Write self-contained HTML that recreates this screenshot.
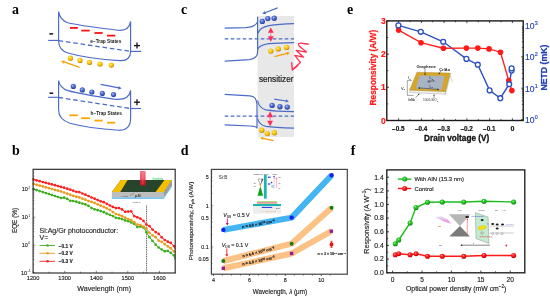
<!DOCTYPE html>
<html><head><meta charset="utf-8"><style>
html,body{margin:0;padding:0;background:#fff;}
svg{display:block;will-change:transform;filter:blur(0.25px);}
.s{font-family:"Liberation Sans",sans-serif;}
.r{font-family:"Liberation Serif",serif;}
</style></head><body>
<svg width="550" height="298" viewBox="0 0 550 298">
<defs>
<radialGradient id="gy" cx="0.4" cy="0.36" r="0.68"><stop offset="0" stop-color="#fff4b0"/><stop offset="0.3" stop-color="#ffd21a"/><stop offset="0.75" stop-color="#ecac00"/><stop offset="1" stop-color="#a87000"/></radialGradient>
<radialGradient id="gb" cx="0.4" cy="0.36" r="0.68"><stop offset="0" stop-color="#b8c8f8"/><stop offset="0.35" stop-color="#5874d4"/><stop offset="0.8" stop-color="#3450b4"/><stop offset="1" stop-color="#1c2e80"/></radialGradient>
<radialGradient id="gg" cx="0.4" cy="0.36" r="0.66"><stop offset="0" stop-color="#e8ffe0"/><stop offset="0.22" stop-color="#3ed03e"/><stop offset="0.7" stop-color="#14b414"/><stop offset="1" stop-color="#0a780a"/></radialGradient>
<radialGradient id="gr" cx="0.4" cy="0.36" r="0.66"><stop offset="0" stop-color="#ffe8e8"/><stop offset="0.22" stop-color="#ff3a3a"/><stop offset="0.7" stop-color="#f00a0a"/><stop offset="1" stop-color="#a80000"/></radialGradient>
</defs>
<rect width="550" height="298" fill="#fff"/>
<text x="12" y="13.8" class="r" font-weight="bold" font-size="14">a</text>
<path d="M58.6 11.7 C59.5 17.5 62 20.8 68 22.8 C78 25.5 100 28 118 30.2 C125 31 129.5 28 130.6 21.4 L130.6 51.5 C130.6 57 127.5 61 120 60.6 C100 59.5 80 56.5 68 53 C61.5 51 58.6 47 58.6 41 Z" fill="none" stroke="#4b6bc8" stroke-width="1.15"/>
<line x1="48.2" y1="40.4" x2="58.6" y2="40.4" stroke="#4b6bc8" stroke-width="1.15"/>
<line x1="58.6" y1="40.6" x2="130.6" y2="51.4" stroke="#4b6bc8" stroke-width="1.3" stroke-dasharray="4.6,2.8"/>
<line x1="130.6" y1="51.4" x2="141" y2="51.4" stroke="#4b6bc8" stroke-width="1.15"/>
<line x1="70" y1="27.9" x2="77.8" y2="27.9" stroke="#ff1010" stroke-width="1.8"/>
<line x1="81.3" y1="30.6" x2="89.7" y2="30.6" stroke="#ff1010" stroke-width="1.8"/>
<line x1="94.5" y1="33" x2="102.7" y2="33" stroke="#ff1010" stroke-width="1.8"/>
<line x1="107" y1="35.6" x2="115.3" y2="35.6" stroke="#ff1010" stroke-width="1.8"/>
<text x="90.3" y="43.4" class="s" font-weight="bold" font-size="4.75" fill="#1a1a1a">e−Trap States</text>
<line x1="49.4" y1="33.9" x2="53.1" y2="33.9" stroke="#111" stroke-width="1.5"/>
<line x1="134" y1="45.6" x2="140" y2="45.6" stroke="#111" stroke-width="1.3"/><line x1="137" y1="42.6" x2="137" y2="48.6" stroke="#111" stroke-width="1.3"/>
<circle cx="70.4" cy="58.2" r="2.6" fill="url(#gy)"/>
<circle cx="80" cy="60.4" r="2.6" fill="url(#gy)"/>
<circle cx="89.5" cy="62.4" r="2.6" fill="url(#gy)"/>
<circle cx="100" cy="64" r="2.6" fill="url(#gy)"/>
<circle cx="111.3" cy="65.1" r="2.6" fill="url(#gy)"/>
<line x1="79.6" y1="67.3" x2="63.75" y2="61.93" stroke="#f5a000" stroke-width="1.25"/><polygon points="61.00,61.00 64.80,60.39 63.64,63.80" fill="#f5a000"/>
<path d="M58.6 80.6 C59.5 86 62 88.7 68 90.6 C80 94 100 97 114 99.1 C122 100 129.5 98 130.6 90.3 L130.6 118 C130.6 126 127 130.5 119 130.3 C100 129 80 126 70 123.2 C61.5 120.5 58.6 116 58.6 110 Z" fill="none" stroke="#4b6bc8" stroke-width="1.15"/>
<line x1="48.2" y1="97.3" x2="58.6" y2="97.3" stroke="#4b6bc8" stroke-width="1.15"/>
<line x1="58.6" y1="97.5" x2="130.6" y2="108.5" stroke="#4b6bc8" stroke-width="1.3" stroke-dasharray="4.6,2.8"/>
<line x1="130.6" y1="108.5" x2="141" y2="108.5" stroke="#4b6bc8" stroke-width="1.15"/>
<line x1="69.4" y1="115.3" x2="77.8" y2="115.3" stroke="#ffa500" stroke-width="1.8"/>
<line x1="81.1" y1="118.2" x2="90" y2="118.2" stroke="#ffa500" stroke-width="1.8"/>
<line x1="94.5" y1="120.6" x2="102.7" y2="120.6" stroke="#ffa500" stroke-width="1.8"/>
<line x1="107" y1="122.7" x2="115.3" y2="122.7" stroke="#ffa500" stroke-width="1.8"/>
<text x="90.5" y="115" class="s" font-weight="bold" font-size="4.75" fill="#1a1a1a">h−Trap States</text>
<line x1="49.5" y1="93.2" x2="53.2" y2="93.2" stroke="#111" stroke-width="1.5"/>
<line x1="134" y1="102.2" x2="140" y2="102.2" stroke="#111" stroke-width="1.3"/><line x1="137" y1="99.2" x2="137" y2="105.2" stroke="#111" stroke-width="1.3"/>
<circle cx="73.3" cy="86.4" r="2.6" fill="url(#gb)"/>
<circle cx="82.3" cy="89.9" r="2.6" fill="url(#gb)"/>
<circle cx="91.8" cy="92" r="2.6" fill="url(#gb)"/>
<circle cx="102.3" cy="93.4" r="2.6" fill="url(#gb)"/>
<circle cx="113.5" cy="94.6" r="2.6" fill="url(#gb)"/>
<line x1="100.6" y1="84.4" x2="118.85" y2="87.95" stroke="#4b6bc8" stroke-width="1.2"/><polygon points="121.70,88.50 118.02,89.62 118.71,86.08" fill="#4b6bc8"/>
<text x="12" y="154.8" class="r" font-weight="bold" font-size="14">b</text>
<polygon points="120.8,180.1 172,180.1 163.7,192.2 111.8,192.2" fill="#27452c"/>
<polygon points="120.8,180.1 127.6,180.1 120.1,192.2 111.8,192.2" fill="#f4bf00"/>
<polygon points="164.4,180.1 172,180.1 163.7,192.2 155.4,192.2" fill="#f4bf00"/>
<polygon points="111.8,192.2 163.7,192.2 163.7,197.4 111.8,197.4" fill="#bdbdbd"/>
<polygon points="163.7,192.2 172,180.1 172,185.2 163.7,197.4" fill="#9c9c9c"/>
<polygon points="111.8,197.4 163.7,197.4 172,185.2 172,186.6 163.7,198.7 111.8,198.7" fill="#48b4ee"/>
<defs><linearGradient id="beam" x1="0" x2="0" y1="0" y2="1"><stop offset="0" stop-color="#f27a88"/><stop offset="0.6" stop-color="#ec5060"/><stop offset="0.65" stop-color="#d81c30"/><stop offset="1" stop-color="#c81828"/></linearGradient></defs>
<rect x="140" y="171" width="5.6" height="14.4" fill="url(#beam)"/><line x1="142.8" y1="172" x2="142.8" y2="184" stroke="#ffb0b8" stroke-width="0.5" opacity="0.7"/>
<text x="152.6" y="179.7" class="s" font-size="2.6" textLength="10.5" lengthAdjust="spacingAndGlyphs" fill="#22bb44">Graphene</text>
<text x="121.6" y="196.8" class="s" font-size="2.4" fill="#333">Ag np</text><text x="135" y="197" class="s" font-weight="bold" font-size="3" fill="#222">p-Si</text><line x1="130" y1="195.5" x2="134" y2="193" stroke="#333" stroke-width="0.3"/>
<text x="132.2" y="202.8" class="s" font-size="2.4" textLength="8.2" lengthAdjust="spacingAndGlyphs" fill="#333">Ag/Ga-In</text>
<line x1="146.6" y1="205.5" x2="146.6" y2="273.0" stroke="#222" stroke-width="0.75" stroke-dasharray="1.1,0.7"/>
<polyline points="33.6,189.1 36.6,190.1 39.7,191.1 42.8,192.1 45.8,193.1 48.9,194.0 51.9,195.0 55.0,196.0 58.0,197.0 61.0,198.0 64.1,197.7 67.2,198.9 70.2,200.8 73.2,201.0 76.3,201.7 79.3,202.7 82.4,203.6 85.4,204.4 88.5,205.9 91.5,208.0 94.6,209.3 97.7,210.2 100.7,211.1 103.8,212.2 106.8,213.6 109.8,214.8 112.9,216.1 115.9,217.8 119.0,218.3 122.0,219.1 125.1,220.4 128.2,221.2 131.2,222.5 134.2,224.0 137.3,227.0 140.3,226.6 143.4,227.4 146.4,232.2 149.5,237.2 152.5,240.9 155.6,244.7 158.7,247.5 161.7,249.5 164.8,251.3 167.8,250.9 170.8,252.8 173.9,255.3 175.0,259.5" fill="none" stroke="#3cb01c" stroke-width="1.0"/>
<circle cx="33.6" cy="189.1" r="1.35" fill="#3cb01c"/>
<circle cx="36.6" cy="190.1" r="1.35" fill="#3cb01c"/>
<circle cx="39.7" cy="191.1" r="1.35" fill="#3cb01c"/>
<circle cx="42.8" cy="192.1" r="1.35" fill="#3cb01c"/>
<circle cx="45.8" cy="193.1" r="1.35" fill="#3cb01c"/>
<circle cx="48.9" cy="194.0" r="1.35" fill="#3cb01c"/>
<circle cx="51.9" cy="195.0" r="1.35" fill="#3cb01c"/>
<circle cx="55.0" cy="196.0" r="1.35" fill="#3cb01c"/>
<circle cx="58.0" cy="197.0" r="1.35" fill="#3cb01c"/>
<circle cx="61.0" cy="198.0" r="1.35" fill="#3cb01c"/>
<circle cx="64.1" cy="197.7" r="1.35" fill="#3cb01c"/>
<circle cx="67.2" cy="198.9" r="1.35" fill="#3cb01c"/>
<circle cx="70.2" cy="200.8" r="1.35" fill="#3cb01c"/>
<circle cx="73.2" cy="201.0" r="1.35" fill="#3cb01c"/>
<circle cx="76.3" cy="201.7" r="1.35" fill="#3cb01c"/>
<circle cx="79.3" cy="202.7" r="1.35" fill="#3cb01c"/>
<circle cx="82.4" cy="203.6" r="1.35" fill="#3cb01c"/>
<circle cx="85.4" cy="204.4" r="1.35" fill="#3cb01c"/>
<circle cx="88.5" cy="205.9" r="1.35" fill="#3cb01c"/>
<circle cx="91.5" cy="208.0" r="1.35" fill="#3cb01c"/>
<circle cx="94.6" cy="209.3" r="1.35" fill="#3cb01c"/>
<circle cx="97.7" cy="210.2" r="1.35" fill="#3cb01c"/>
<circle cx="100.7" cy="211.1" r="1.35" fill="#3cb01c"/>
<circle cx="103.8" cy="212.2" r="1.35" fill="#3cb01c"/>
<circle cx="106.8" cy="213.6" r="1.35" fill="#3cb01c"/>
<circle cx="109.8" cy="214.8" r="1.35" fill="#3cb01c"/>
<circle cx="112.9" cy="216.1" r="1.35" fill="#3cb01c"/>
<circle cx="115.9" cy="217.8" r="1.35" fill="#3cb01c"/>
<circle cx="119.0" cy="218.3" r="1.35" fill="#3cb01c"/>
<circle cx="122.0" cy="219.1" r="1.35" fill="#3cb01c"/>
<circle cx="125.1" cy="220.4" r="1.35" fill="#3cb01c"/>
<circle cx="128.2" cy="221.2" r="1.35" fill="#3cb01c"/>
<circle cx="131.2" cy="222.5" r="1.35" fill="#3cb01c"/>
<circle cx="134.2" cy="224.0" r="1.35" fill="#3cb01c"/>
<circle cx="137.3" cy="227.0" r="1.35" fill="#3cb01c"/>
<circle cx="140.3" cy="226.6" r="1.35" fill="#3cb01c"/>
<circle cx="143.4" cy="227.4" r="1.35" fill="#3cb01c"/>
<circle cx="146.4" cy="232.2" r="1.35" fill="#3cb01c"/>
<circle cx="149.5" cy="237.2" r="1.35" fill="#3cb01c"/>
<circle cx="152.5" cy="240.9" r="1.35" fill="#3cb01c"/>
<circle cx="155.6" cy="244.7" r="1.35" fill="#3cb01c"/>
<circle cx="158.7" cy="247.5" r="1.35" fill="#3cb01c"/>
<circle cx="161.7" cy="249.5" r="1.35" fill="#3cb01c"/>
<circle cx="164.8" cy="251.3" r="1.35" fill="#3cb01c"/>
<circle cx="167.8" cy="250.9" r="1.35" fill="#3cb01c"/>
<circle cx="170.8" cy="252.8" r="1.35" fill="#3cb01c"/>
<circle cx="173.9" cy="255.3" r="1.35" fill="#3cb01c"/>
<polyline points="33.6,183.9 36.6,184.8 39.7,185.6 42.8,186.4 45.8,187.3 48.9,188.1 51.9,189.0 55.0,189.8 58.0,190.6 61.0,191.5 64.1,192.5 67.2,193.7 70.2,194.7 73.2,195.8 76.3,196.7 79.3,197.4 82.4,198.7 85.4,199.7 88.5,201.1 91.5,201.9 94.6,202.9 97.7,204.4 100.7,205.6 103.8,206.9 106.8,208.3 109.8,209.9 112.9,212.1 115.9,214.0 119.0,214.9 122.0,216.2 125.1,217.7 128.2,219.1 131.2,220.2 134.2,222.2 137.3,224.7 140.3,225.0 143.4,226.6 146.4,228.6 149.5,232.8 152.5,235.3 155.6,237.2 158.7,240.6 161.7,241.8 164.8,244.2 167.8,246.4 170.8,248.3 173.9,251.3 175.0,252.6" fill="none" stroke="#eb9a1a" stroke-width="1.0"/>
<circle cx="33.6" cy="183.9" r="1.35" fill="#eb9a1a"/>
<circle cx="36.6" cy="184.8" r="1.35" fill="#eb9a1a"/>
<circle cx="39.7" cy="185.6" r="1.35" fill="#eb9a1a"/>
<circle cx="42.8" cy="186.4" r="1.35" fill="#eb9a1a"/>
<circle cx="45.8" cy="187.3" r="1.35" fill="#eb9a1a"/>
<circle cx="48.9" cy="188.1" r="1.35" fill="#eb9a1a"/>
<circle cx="51.9" cy="189.0" r="1.35" fill="#eb9a1a"/>
<circle cx="55.0" cy="189.8" r="1.35" fill="#eb9a1a"/>
<circle cx="58.0" cy="190.6" r="1.35" fill="#eb9a1a"/>
<circle cx="61.0" cy="191.5" r="1.35" fill="#eb9a1a"/>
<circle cx="64.1" cy="192.5" r="1.35" fill="#eb9a1a"/>
<circle cx="67.2" cy="193.7" r="1.35" fill="#eb9a1a"/>
<circle cx="70.2" cy="194.7" r="1.35" fill="#eb9a1a"/>
<circle cx="73.2" cy="195.8" r="1.35" fill="#eb9a1a"/>
<circle cx="76.3" cy="196.7" r="1.35" fill="#eb9a1a"/>
<circle cx="79.3" cy="197.4" r="1.35" fill="#eb9a1a"/>
<circle cx="82.4" cy="198.7" r="1.35" fill="#eb9a1a"/>
<circle cx="85.4" cy="199.7" r="1.35" fill="#eb9a1a"/>
<circle cx="88.5" cy="201.1" r="1.35" fill="#eb9a1a"/>
<circle cx="91.5" cy="201.9" r="1.35" fill="#eb9a1a"/>
<circle cx="94.6" cy="202.9" r="1.35" fill="#eb9a1a"/>
<circle cx="97.7" cy="204.4" r="1.35" fill="#eb9a1a"/>
<circle cx="100.7" cy="205.6" r="1.35" fill="#eb9a1a"/>
<circle cx="103.8" cy="206.9" r="1.35" fill="#eb9a1a"/>
<circle cx="106.8" cy="208.3" r="1.35" fill="#eb9a1a"/>
<circle cx="109.8" cy="209.9" r="1.35" fill="#eb9a1a"/>
<circle cx="112.9" cy="212.1" r="1.35" fill="#eb9a1a"/>
<circle cx="115.9" cy="214.0" r="1.35" fill="#eb9a1a"/>
<circle cx="119.0" cy="214.9" r="1.35" fill="#eb9a1a"/>
<circle cx="122.0" cy="216.2" r="1.35" fill="#eb9a1a"/>
<circle cx="125.1" cy="217.7" r="1.35" fill="#eb9a1a"/>
<circle cx="128.2" cy="219.1" r="1.35" fill="#eb9a1a"/>
<circle cx="131.2" cy="220.2" r="1.35" fill="#eb9a1a"/>
<circle cx="134.2" cy="222.2" r="1.35" fill="#eb9a1a"/>
<circle cx="137.3" cy="224.7" r="1.35" fill="#eb9a1a"/>
<circle cx="140.3" cy="225.0" r="1.35" fill="#eb9a1a"/>
<circle cx="143.4" cy="226.6" r="1.35" fill="#eb9a1a"/>
<circle cx="146.4" cy="228.6" r="1.35" fill="#eb9a1a"/>
<circle cx="149.5" cy="232.8" r="1.35" fill="#eb9a1a"/>
<circle cx="152.5" cy="235.3" r="1.35" fill="#eb9a1a"/>
<circle cx="155.6" cy="237.2" r="1.35" fill="#eb9a1a"/>
<circle cx="158.7" cy="240.6" r="1.35" fill="#eb9a1a"/>
<circle cx="161.7" cy="241.8" r="1.35" fill="#eb9a1a"/>
<circle cx="164.8" cy="244.2" r="1.35" fill="#eb9a1a"/>
<circle cx="167.8" cy="246.4" r="1.35" fill="#eb9a1a"/>
<circle cx="170.8" cy="248.3" r="1.35" fill="#eb9a1a"/>
<circle cx="173.9" cy="251.3" r="1.35" fill="#eb9a1a"/>
<polyline points="33.6,179.5 36.6,180.3 39.7,181.2 42.8,182.0 45.8,182.8 48.9,183.6 51.9,184.4 55.0,185.2 58.0,186.1 61.0,186.9 64.1,187.7 67.2,188.7 70.2,189.6 73.2,190.7 76.3,191.8 79.3,192.1 82.4,193.5 85.4,194.7 88.5,196.0 91.5,197.5 94.6,198.7 97.7,200.1 100.7,201.3 103.8,202.2 106.8,203.8 109.8,205.5 112.9,206.9 115.9,208.1 119.0,208.1 122.0,209.4 125.1,211.8 128.2,211.6 131.2,211.3 134.2,216.1 137.3,217.3 140.3,218.6 143.4,220.9 146.4,224.5 149.5,226.1 152.5,229.6 155.6,232.1 158.7,233.9 161.7,237.3 164.8,240.0 167.8,241.7 170.8,242.9 173.9,246.1 175.0,248.9" fill="none" stroke="#ff1f1f" stroke-width="1.0"/>
<circle cx="33.6" cy="179.5" r="1.35" fill="#ff1f1f"/>
<circle cx="36.6" cy="180.3" r="1.35" fill="#ff1f1f"/>
<circle cx="39.7" cy="181.2" r="1.35" fill="#ff1f1f"/>
<circle cx="42.8" cy="182.0" r="1.35" fill="#ff1f1f"/>
<circle cx="45.8" cy="182.8" r="1.35" fill="#ff1f1f"/>
<circle cx="48.9" cy="183.6" r="1.35" fill="#ff1f1f"/>
<circle cx="51.9" cy="184.4" r="1.35" fill="#ff1f1f"/>
<circle cx="55.0" cy="185.2" r="1.35" fill="#ff1f1f"/>
<circle cx="58.0" cy="186.1" r="1.35" fill="#ff1f1f"/>
<circle cx="61.0" cy="186.9" r="1.35" fill="#ff1f1f"/>
<circle cx="64.1" cy="187.7" r="1.35" fill="#ff1f1f"/>
<circle cx="67.2" cy="188.7" r="1.35" fill="#ff1f1f"/>
<circle cx="70.2" cy="189.6" r="1.35" fill="#ff1f1f"/>
<circle cx="73.2" cy="190.7" r="1.35" fill="#ff1f1f"/>
<circle cx="76.3" cy="191.8" r="1.35" fill="#ff1f1f"/>
<circle cx="79.3" cy="192.1" r="1.35" fill="#ff1f1f"/>
<circle cx="82.4" cy="193.5" r="1.35" fill="#ff1f1f"/>
<circle cx="85.4" cy="194.7" r="1.35" fill="#ff1f1f"/>
<circle cx="88.5" cy="196.0" r="1.35" fill="#ff1f1f"/>
<circle cx="91.5" cy="197.5" r="1.35" fill="#ff1f1f"/>
<circle cx="94.6" cy="198.7" r="1.35" fill="#ff1f1f"/>
<circle cx="97.7" cy="200.1" r="1.35" fill="#ff1f1f"/>
<circle cx="100.7" cy="201.3" r="1.35" fill="#ff1f1f"/>
<circle cx="103.8" cy="202.2" r="1.35" fill="#ff1f1f"/>
<circle cx="106.8" cy="203.8" r="1.35" fill="#ff1f1f"/>
<circle cx="109.8" cy="205.5" r="1.35" fill="#ff1f1f"/>
<circle cx="112.9" cy="206.9" r="1.35" fill="#ff1f1f"/>
<circle cx="115.9" cy="208.1" r="1.35" fill="#ff1f1f"/>
<circle cx="119.0" cy="208.1" r="1.35" fill="#ff1f1f"/>
<circle cx="122.0" cy="209.4" r="1.35" fill="#ff1f1f"/>
<circle cx="125.1" cy="211.8" r="1.35" fill="#ff1f1f"/>
<circle cx="128.2" cy="211.6" r="1.35" fill="#ff1f1f"/>
<circle cx="131.2" cy="211.3" r="1.35" fill="#ff1f1f"/>
<circle cx="134.2" cy="216.1" r="1.35" fill="#ff1f1f"/>
<circle cx="137.3" cy="217.3" r="1.35" fill="#ff1f1f"/>
<circle cx="140.3" cy="218.6" r="1.35" fill="#ff1f1f"/>
<circle cx="143.4" cy="220.9" r="1.35" fill="#ff1f1f"/>
<circle cx="146.4" cy="224.5" r="1.35" fill="#ff1f1f"/>
<circle cx="149.5" cy="226.1" r="1.35" fill="#ff1f1f"/>
<circle cx="152.5" cy="229.6" r="1.35" fill="#ff1f1f"/>
<circle cx="155.6" cy="232.1" r="1.35" fill="#ff1f1f"/>
<circle cx="158.7" cy="233.9" r="1.35" fill="#ff1f1f"/>
<circle cx="161.7" cy="237.3" r="1.35" fill="#ff1f1f"/>
<circle cx="164.8" cy="240.0" r="1.35" fill="#ff1f1f"/>
<circle cx="167.8" cy="241.7" r="1.35" fill="#ff1f1f"/>
<circle cx="170.8" cy="242.9" r="1.35" fill="#ff1f1f"/>
<circle cx="173.9" cy="246.1" r="1.35" fill="#ff1f1f"/>
<rect x="33.1" y="169.3" width="142.1" height="103.69999999999999" fill="none" stroke="#2a2a2a" stroke-width="1.15"/>
<line x1="33.1" y1="273.0" x2="33.1" y2="270.8" stroke="#333" stroke-width="0.6"/>
<line x1="48.9" y1="273.0" x2="48.9" y2="271.7" stroke="#333" stroke-width="0.6"/>
<line x1="64.7" y1="273.0" x2="64.7" y2="270.8" stroke="#333" stroke-width="0.6"/>
<line x1="80.5" y1="273.0" x2="80.5" y2="271.7" stroke="#333" stroke-width="0.6"/>
<line x1="96.3" y1="273.0" x2="96.3" y2="270.8" stroke="#333" stroke-width="0.6"/>
<line x1="112.0" y1="273.0" x2="112.0" y2="271.7" stroke="#333" stroke-width="0.6"/>
<line x1="127.8" y1="273.0" x2="127.8" y2="270.8" stroke="#333" stroke-width="0.6"/>
<line x1="143.6" y1="273.0" x2="143.6" y2="271.7" stroke="#333" stroke-width="0.6"/>
<line x1="159.4" y1="273.0" x2="159.4" y2="270.8" stroke="#333" stroke-width="0.6"/>
<line x1="175.2" y1="273.0" x2="175.2" y2="271.7" stroke="#333" stroke-width="0.6"/>
<text x="33.1" y="280" text-anchor="middle" class="s" font-size="5.7" fill="#222" stroke="#222" stroke-width="0.14">1200</text>
<text x="64.7" y="280" text-anchor="middle" class="s" font-size="5.7" fill="#222" stroke="#222" stroke-width="0.14">1300</text>
<text x="96.3" y="280" text-anchor="middle" class="s" font-size="5.7" fill="#222" stroke="#222" stroke-width="0.14">1400</text>
<text x="127.8" y="280" text-anchor="middle" class="s" font-size="5.7" fill="#222" stroke="#222" stroke-width="0.14">1500</text>
<text x="159.4" y="280" text-anchor="middle" class="s" font-size="5.7" fill="#222" stroke="#222" stroke-width="0.14">1600</text>
<line x1="33.1" y1="272.8" x2="35.300000000000004" y2="272.8" stroke="#333" stroke-width="0.5"/>
<line x1="33.1" y1="264.4" x2="34.300000000000004" y2="264.4" stroke="#333" stroke-width="0.5"/>
<line x1="33.1" y1="259.5" x2="34.300000000000004" y2="259.5" stroke="#333" stroke-width="0.5"/>
<line x1="33.1" y1="256.1" x2="34.300000000000004" y2="256.1" stroke="#333" stroke-width="0.5"/>
<line x1="33.1" y1="253.4" x2="34.300000000000004" y2="253.4" stroke="#333" stroke-width="0.5"/>
<line x1="33.1" y1="251.2" x2="34.300000000000004" y2="251.2" stroke="#333" stroke-width="0.5"/>
<line x1="33.1" y1="249.3" x2="34.300000000000004" y2="249.3" stroke="#333" stroke-width="0.5"/>
<line x1="33.1" y1="247.7" x2="34.300000000000004" y2="247.7" stroke="#333" stroke-width="0.5"/>
<line x1="33.1" y1="246.3" x2="34.300000000000004" y2="246.3" stroke="#333" stroke-width="0.5"/>
<line x1="33.1" y1="245.0" x2="35.300000000000004" y2="245.0" stroke="#333" stroke-width="0.5"/>
<line x1="33.1" y1="236.6" x2="34.300000000000004" y2="236.6" stroke="#333" stroke-width="0.5"/>
<line x1="33.1" y1="231.7" x2="34.300000000000004" y2="231.7" stroke="#333" stroke-width="0.5"/>
<line x1="33.1" y1="228.3" x2="34.300000000000004" y2="228.3" stroke="#333" stroke-width="0.5"/>
<line x1="33.1" y1="225.6" x2="34.300000000000004" y2="225.6" stroke="#333" stroke-width="0.5"/>
<line x1="33.1" y1="223.4" x2="34.300000000000004" y2="223.4" stroke="#333" stroke-width="0.5"/>
<line x1="33.1" y1="221.5" x2="34.300000000000004" y2="221.5" stroke="#333" stroke-width="0.5"/>
<line x1="33.1" y1="219.9" x2="34.300000000000004" y2="219.9" stroke="#333" stroke-width="0.5"/>
<line x1="33.1" y1="218.5" x2="34.300000000000004" y2="218.5" stroke="#333" stroke-width="0.5"/>
<line x1="33.1" y1="217.2" x2="35.300000000000004" y2="217.2" stroke="#333" stroke-width="0.5"/>
<line x1="33.1" y1="208.8" x2="34.300000000000004" y2="208.8" stroke="#333" stroke-width="0.5"/>
<line x1="33.1" y1="203.9" x2="34.300000000000004" y2="203.9" stroke="#333" stroke-width="0.5"/>
<line x1="33.1" y1="200.5" x2="34.300000000000004" y2="200.5" stroke="#333" stroke-width="0.5"/>
<line x1="33.1" y1="197.8" x2="34.300000000000004" y2="197.8" stroke="#333" stroke-width="0.5"/>
<line x1="33.1" y1="195.6" x2="34.300000000000004" y2="195.6" stroke="#333" stroke-width="0.5"/>
<line x1="33.1" y1="193.7" x2="34.300000000000004" y2="193.7" stroke="#333" stroke-width="0.5"/>
<line x1="33.1" y1="192.1" x2="34.300000000000004" y2="192.1" stroke="#333" stroke-width="0.5"/>
<line x1="33.1" y1="190.7" x2="34.300000000000004" y2="190.7" stroke="#333" stroke-width="0.5"/>
<line x1="33.1" y1="189.4" x2="35.300000000000004" y2="189.4" stroke="#333" stroke-width="0.5"/>
<line x1="33.1" y1="181.0" x2="34.300000000000004" y2="181.0" stroke="#333" stroke-width="0.5"/>
<line x1="33.1" y1="176.1" x2="34.300000000000004" y2="176.1" stroke="#333" stroke-width="0.5"/>
<line x1="33.1" y1="172.7" x2="34.300000000000004" y2="172.7" stroke="#333" stroke-width="0.5"/>
<line x1="33.1" y1="170.0" x2="34.300000000000004" y2="170.0" stroke="#333" stroke-width="0.5"/>
<text x="27.8" y="191.2" text-anchor="end" class="s" font-size="5.5" fill="#1a1a1a" stroke="#1a1a1a" stroke-width="0.14">10</text><text x="28.3" y="188.7" class="s" font-size="3.6" fill="#1a1a1a">2</text>
<text x="27.8" y="219.0" text-anchor="end" class="s" font-size="5.5" fill="#1a1a1a" stroke="#1a1a1a" stroke-width="0.14">10</text><text x="28.3" y="216.5" class="s" font-size="3.6" fill="#1a1a1a">1</text>
<text x="27.8" y="246.8" text-anchor="end" class="s" font-size="5.5" fill="#1a1a1a" stroke="#1a1a1a" stroke-width="0.14">10</text><text x="28.3" y="244.3" class="s" font-size="3.6" fill="#1a1a1a">0</text>
<text x="27.0" y="274.7" text-anchor="end" class="s" font-size="5.5" fill="#1a1a1a" stroke="#1a1a1a" stroke-width="0.14">10</text><text x="27.5" y="272.1" class="s" font-size="3.6" fill="#1a1a1a">-1</text>
<text transform="translate(16.9,220.5) rotate(-90)" text-anchor="middle" class="s" font-size="6.4" fill="#1a1a1a" stroke="#1a1a1a" stroke-width="0.14">EQE (%)</text>
<text x="104.2" y="290.8" text-anchor="middle" class="s" font-size="7.1" fill="#222" stroke="#222" stroke-width="0.14">Wavelength (nm)</text>
<text x="39.5" y="232.8" class="s" font-size="7" fill="#222" stroke="#222" stroke-width="0.14">Si:Ag/Gr photoconductor:</text>
<text x="39.5" y="239.8" class="s" font-size="7" fill="#222" stroke="#222" stroke-width="0.14">V=</text>
<line x1="39.5" y1="245.5" x2="55" y2="245.5" stroke="#3cb01c" stroke-width="0.9"/><circle cx="47.6" cy="245.5" r="1.2" fill="#3cb01c"/>
<text x="58.6" y="247.5" class="s" font-weight="bold" font-size="5.6" textLength="14.2" lengthAdjust="spacingAndGlyphs" fill="#1a1a1a" stroke="#1a1a1a" stroke-width="0.14">−0.1 V</text>
<line x1="39.5" y1="253.3" x2="55" y2="253.3" stroke="#eb9a1a" stroke-width="0.9"/><circle cx="47.6" cy="253.3" r="1.2" fill="#eb9a1a"/>
<text x="58.6" y="255.3" class="s" font-weight="bold" font-size="5.6" textLength="14.2" lengthAdjust="spacingAndGlyphs" fill="#1a1a1a" stroke="#1a1a1a" stroke-width="0.14">−0.2 V</text>
<line x1="39.5" y1="261.3" x2="55" y2="261.3" stroke="#ff1f1f" stroke-width="0.9"/><circle cx="47.6" cy="261.3" r="1.2" fill="#ff1f1f"/>
<text x="58.6" y="263.3" class="s" font-weight="bold" font-size="5.6" textLength="14.2" lengthAdjust="spacingAndGlyphs" fill="#1a1a1a" stroke="#1a1a1a" stroke-width="0.14">−0.3 V</text>
<text x="181" y="14" class="r" font-weight="bold" font-size="14">c</text>
<rect x="257.6" y="16" width="36.4" height="121" fill="#e8e8e8"/>
<path d="M224.7 28.2 L246 27.6 C252 27.2 256 26 257.6 21.8 M257.6 16.7 L257.6 51.7 C257.6 56 255 58.8 249.4 59.6 L224.7 61.2" fill="none" stroke="#4b6bc8" stroke-width="1.2"/>
<path d="M257.6 33.8 C259 29.5 263 26.8 269 25.6 C276 24.4 285 23.8 294 23.6" fill="none" stroke="#4b6bc8" stroke-width="1.2"/>
<path d="M257.6 49.4 C259 45.6 263 44.4 269 43.6 C276 42.9 285 42.7 294 42.6" fill="none" stroke="#4b6bc8" stroke-width="1.2"/>
<line x1="224.7" y1="38.9" x2="294" y2="38.9" stroke="#4b6bc8" stroke-width="1.35" stroke-dasharray="3.6,2.4"/>
<circle cx="262.3" cy="21.4" r="2.7" fill="url(#gb)"/>
<circle cx="267.8" cy="18.6" r="2.7" fill="url(#gb)"/>
<circle cx="274.2" cy="18.2" r="2.7" fill="url(#gb)"/>
<line x1="277.6" y1="7.9" x2="265.01" y2="12.76" stroke="#4b6bc8" stroke-width="1.2"/><polygon points="262.30,13.80 264.82,10.90 266.12,14.26" fill="#4b6bc8"/>
<line x1="270.8" y1="32.37" x2="270.8" y2="36.83" stroke="#ff2a58" stroke-width="0.9" stroke-dasharray="0.8,0.6"/><polygon points="270.8,27.4 267.90000000000003,32.87 273.7,32.87" fill="#ff2a58"/><polygon points="270.8,41.8 267.90000000000003,36.33 273.7,36.33" fill="#ff2a58"/>
<circle cx="270.8" cy="51.1" r="2.7" fill="url(#gy)"/>
<circle cx="278.3" cy="48.9" r="2.7" fill="url(#gy)"/>
<circle cx="286.6" cy="47.4" r="2.7" fill="url(#gy)"/>
<line x1="274.5" y1="56.6" x2="287.28" y2="53.36" stroke="#f5a000" stroke-width="1.2"/><polygon points="289.90,52.70 287.22,55.13 286.38,51.84" fill="#f5a000"/>
<path d="M308.4 44.2 C304 43.6 300 42.6 298.7 43.6 C297.8 44.5 298.5 45.2 299.2 46 L306.4 52.1 L296.3 50.4 L303.6 57.2 L294.7 55.4 L300.4 62.4 L292.4 69.8" fill="none" stroke="#ff3050" stroke-width="1.3" stroke-linejoin="round" stroke-linecap="round"/>
<polyline points="291.7,62.7 292.3,69.9 297.7,65.8" fill="none" stroke="#ff3050" stroke-width="1.3" stroke-linejoin="round" stroke-linecap="round"/>
<text x="258.9" y="82.0" class="s" font-size="8.8" textLength="34.5" lengthAdjust="spacingAndGlyphs" fill="#1a1a1a" stroke="#1a1a1a" stroke-width="0.2">sensitizer</text>
<path d="M224.7 94.4 L250 95.8 C255 96.3 256.6 99 257 104.8 L257 128.3 C256.6 126.5 254.5 126.2 250 126 L224.7 124.8" fill="none" stroke="#4b6bc8" stroke-width="1.2"/>
<path d="M257.6 100.5 C258.5 105.5 261 108.6 266 109.8 C273 111 283 111.4 294 111.7" fill="none" stroke="#4b6bc8" stroke-width="1.2"/>
<path d="M257.6 118.5 C258.5 122.8 261 125.3 266 126.3 C273 127.3 283 127.8 294 128.2" fill="none" stroke="#4b6bc8" stroke-width="1.2"/>
<line x1="224.7" y1="116.1" x2="294" y2="116.1" stroke="#4b6bc8" stroke-width="1.35" stroke-dasharray="3.6,2.4"/>
<circle cx="272.1" cy="105.4" r="2.7" fill="url(#gb)"/>
<circle cx="279.9" cy="106.7" r="2.7" fill="url(#gb)"/>
<circle cx="287.2" cy="107.1" r="2.7" fill="url(#gb)"/>
<line x1="274.3" y1="99.2" x2="286.23" y2="101.00" stroke="#4b6bc8" stroke-width="1.2"/><polygon points="288.90,101.40 285.48,102.60 285.99,99.24" fill="#4b6bc8"/>
<line x1="270.1" y1="116.65" x2="270.1" y2="121.15" stroke="#ff2a58" stroke-width="0.9" stroke-dasharray="0.8,0.6"/><polygon points="270.1,111.6 267.20000000000005,117.15 273.0,117.15" fill="#ff2a58"/><polygon points="270.1,126.2 267.20000000000005,120.65 273.0,120.65" fill="#ff2a58"/>
<circle cx="261.7" cy="130.2" r="2.7" fill="url(#gy)"/>
<circle cx="267.3" cy="133.6" r="2.7" fill="url(#gy)"/>
<circle cx="274.3" cy="132.8" r="2.7" fill="url(#gy)"/>
<line x1="273.5" y1="140.6" x2="262.64" y2="138.35" stroke="#f5a000" stroke-width="1.2"/><polygon points="260.00,137.80 263.48,136.79 262.79,140.11" fill="#f5a000"/>
<text x="180.7" y="154.8" class="r" font-weight="bold" font-size="14">d</text>
<line x1="213.4" y1="274.2" x2="213.4" y2="276.0" stroke="#333" stroke-width="0.8"/>
<line x1="222.4" y1="274.2" x2="222.4" y2="275.5" stroke="#333" stroke-width="0.8"/>
<line x1="231.4" y1="274.2" x2="231.4" y2="275.5" stroke="#333" stroke-width="0.8"/>
<line x1="240.4" y1="274.2" x2="240.4" y2="275.5" stroke="#333" stroke-width="0.8"/>
<line x1="249.4" y1="274.2" x2="249.4" y2="276.0" stroke="#333" stroke-width="0.8"/>
<line x1="258.4" y1="274.2" x2="258.4" y2="275.5" stroke="#333" stroke-width="0.8"/>
<line x1="267.3" y1="274.2" x2="267.3" y2="275.5" stroke="#333" stroke-width="0.8"/>
<line x1="276.3" y1="274.2" x2="276.3" y2="275.5" stroke="#333" stroke-width="0.8"/>
<line x1="285.3" y1="274.2" x2="285.3" y2="276.0" stroke="#333" stroke-width="0.8"/>
<line x1="294.3" y1="274.2" x2="294.3" y2="275.5" stroke="#333" stroke-width="0.8"/>
<line x1="303.3" y1="274.2" x2="303.3" y2="275.5" stroke="#333" stroke-width="0.8"/>
<line x1="312.3" y1="274.2" x2="312.3" y2="275.5" stroke="#333" stroke-width="0.8"/>
<line x1="321.3" y1="274.2" x2="321.3" y2="276.0" stroke="#333" stroke-width="0.8"/>
<line x1="330.3" y1="274.2" x2="330.3" y2="275.5" stroke="#333" stroke-width="0.8"/>
<text x="213.4" y="281.8" text-anchor="middle" class="s" font-size="5.4" fill="#1a1a1a" stroke="#1a1a1a" stroke-width="0.14">4</text>
<text x="249.4" y="281.8" text-anchor="middle" class="s" font-size="5.4" fill="#1a1a1a" stroke="#1a1a1a" stroke-width="0.14">6</text>
<text x="285.3" y="281.8" text-anchor="middle" class="s" font-size="5.4" fill="#1a1a1a" stroke="#1a1a1a" stroke-width="0.14">8</text>
<text x="321.3" y="281.8" text-anchor="middle" class="s" font-size="5.4" fill="#1a1a1a" stroke="#1a1a1a" stroke-width="0.14">10</text>
<line x1="211.4" y1="268.4" x2="212.5" y2="268.4" stroke="#333" stroke-width="0.5"/>
<line x1="211.4" y1="263.3" x2="212.5" y2="263.3" stroke="#333" stroke-width="0.5"/>
<line x1="211.4" y1="259.3" x2="212.5" y2="259.3" stroke="#333" stroke-width="0.5"/>
<line x1="211.4" y1="256.0" x2="212.5" y2="256.0" stroke="#333" stroke-width="0.5"/>
<line x1="211.4" y1="253.3" x2="212.5" y2="253.3" stroke="#333" stroke-width="0.5"/>
<line x1="211.4" y1="250.9" x2="212.5" y2="250.9" stroke="#333" stroke-width="0.5"/>
<line x1="211.4" y1="248.8" x2="212.5" y2="248.8" stroke="#333" stroke-width="0.5"/>
<line x1="211.4" y1="246.9" x2="213.4" y2="246.9" stroke="#333" stroke-width="0.5"/>
<line x1="211.4" y1="234.5" x2="212.5" y2="234.5" stroke="#333" stroke-width="0.5"/>
<line x1="211.4" y1="227.3" x2="212.5" y2="227.3" stroke="#333" stroke-width="0.5"/>
<line x1="211.4" y1="222.2" x2="212.5" y2="222.2" stroke="#333" stroke-width="0.5"/>
<line x1="211.4" y1="218.2" x2="212.5" y2="218.2" stroke="#333" stroke-width="0.5"/>
<line x1="211.4" y1="214.9" x2="212.5" y2="214.9" stroke="#333" stroke-width="0.5"/>
<line x1="211.4" y1="212.2" x2="212.5" y2="212.2" stroke="#333" stroke-width="0.5"/>
<line x1="211.4" y1="209.8" x2="212.5" y2="209.8" stroke="#333" stroke-width="0.5"/>
<line x1="211.4" y1="207.7" x2="212.5" y2="207.7" stroke="#333" stroke-width="0.5"/>
<line x1="211.4" y1="205.8" x2="213.4" y2="205.8" stroke="#333" stroke-width="0.5"/>
<line x1="211.4" y1="193.4" x2="212.5" y2="193.4" stroke="#333" stroke-width="0.5"/>
<line x1="211.4" y1="186.2" x2="212.5" y2="186.2" stroke="#333" stroke-width="0.5"/>
<line x1="211.4" y1="181.1" x2="212.5" y2="181.1" stroke="#333" stroke-width="0.5"/>
<line x1="211.4" y1="177.1" x2="212.5" y2="177.1" stroke="#333" stroke-width="0.5"/>
<line x1="211.4" y1="173.8" x2="212.5" y2="173.8" stroke="#333" stroke-width="0.5"/>
<line x1="211.4" y1="171.1" x2="212.5" y2="171.1" stroke="#333" stroke-width="0.5"/>
<text x="208.7" y="179.0" text-anchor="end" class="s" font-size="5.3" fill="#1a1a1a" stroke="#1a1a1a" stroke-width="0.14">5</text>
<text x="208.7" y="207.7" text-anchor="end" class="s" font-size="5.3" fill="#1a1a1a" stroke="#1a1a1a" stroke-width="0.14">1</text>
<text x="208.7" y="220.1" text-anchor="end" class="s" font-size="5.3" fill="#1a1a1a" stroke="#1a1a1a" stroke-width="0.14">0.5</text>
<text x="208.7" y="248.8" text-anchor="end" class="s" font-size="5.3" fill="#1a1a1a" stroke="#1a1a1a" stroke-width="0.14">0.1</text>
<text x="208.7" y="261.2" text-anchor="end" class="s" font-size="5.3" fill="#1a1a1a" stroke="#1a1a1a" stroke-width="0.14">0.05</text>
<text transform="translate(192.6,221) rotate(-90)" text-anchor="middle" class="s" font-size="6.2" fill="#1a1a1a" stroke="#1a1a1a" stroke-width="0.14">Photoresponsivity, <tspan font-style="italic">R</tspan><tspan font-size="4.2" dy="1.4">ph</tspan><tspan dy="-1.4"> (A/W)</tspan></text>
<text x="252.8" y="293.7" class="s" font-size="6.8" textLength="54.2" lengthAdjust="spacingAndGlyphs" fill="#1a1a1a" stroke="#1a1a1a" stroke-width="0.14">Wavelength, <tspan font-style="italic">λ</tspan> (μm)</text>
<text x="218.8" y="178.6" class="s" font-size="4.6" fill="#222">Si:B</text>
<polyline points="223.3,229.9 291.6,217.6 331.6,175.3" fill="none" stroke="#45b4f2" stroke-width="6.0" stroke-linejoin="round"/>
<polyline points="223.3,261 291.6,243.7 331.6,207.7" fill="none" stroke="#fcc185" stroke-width="6.0" stroke-linejoin="round"/>
<polyline points="223.3,268.3 291.6,253.5 331.3,231.2" fill="none" stroke="#fcc185" stroke-width="6.0" stroke-linejoin="round"/>
<circle cx="223.3" cy="229.9" r="2.2" fill="#1020ee"/>
<circle cx="291.6" cy="217.6" r="2.2" fill="#1020ee"/>
<circle cx="331.6" cy="175.3" r="2.2" fill="#1020ee"/>
<circle cx="223.3" cy="261" r="2.0" fill="#1a7a1a"/>
<circle cx="291.6" cy="243.7" r="2.0" fill="#1a7a1a"/>
<circle cx="331.6" cy="207.7" r="2.0" fill="#1a7a1a"/>
<rect x="221.60000000000002" y="266.6" width="3.4" height="3.4" fill="#9a1a9a"/>
<rect x="289.90000000000003" y="251.8" width="3.4" height="3.4" fill="#9a1a9a"/>
<rect x="329.6" y="229.5" width="3.4" height="3.4" fill="#9a1a9a"/>
<line x1="331.5" y1="241.3" x2="331.5" y2="247.4" stroke="#ee1010" stroke-width="0.8"/><line x1="330.4" y1="241.3" x2="332.6" y2="241.3" stroke="#ee1010" stroke-width="0.7"/><line x1="330.4" y1="247.4" x2="332.6" y2="247.4" stroke="#ee1010" stroke-width="0.7"/><ellipse cx="331.5" cy="244.4" rx="1.9" ry="2.2" fill="#ee1010"/>
<text x="317.6" y="255" class="s" font-weight="bold" font-size="3.7" textLength="28.2" lengthAdjust="spacingAndGlyphs" fill="#111" stroke="#111" stroke-width="0.12">n = 3 × 10<tspan dy="-1.3" font-size="2.5">15</tspan><tspan dy="1.3"> cm</tspan><tspan dy="-1.3" font-size="2.5">−3</tspan></text>
<text transform="translate(258.4,223.9) rotate(-10.2)" text-anchor="middle" class="s" font-weight="bold" font-size="3.85" fill="#111" stroke="#111" stroke-width="0.12"><tspan y="1.4">n = 4.6 × 10</tspan><tspan dy="-1.3" font-size="2.6">15</tspan><tspan dy="1.3"> cm</tspan><tspan dy="-1.3" font-size="2.6">−3</tspan></text>
<text transform="translate(258.4,252.1) rotate(-14.2)" text-anchor="middle" class="s" font-weight="bold" font-size="3.85" fill="#111" stroke="#111" stroke-width="0.12"><tspan y="1.4">n = 6.6 × 10</tspan><tspan dy="-1.3" font-size="2.6">15</tspan><tspan dy="1.3"> cm</tspan><tspan dy="-1.3" font-size="2.6">−3</tspan></text>
<text transform="translate(258.4,260.7) rotate(-12.2)" text-anchor="middle" class="s" font-weight="bold" font-size="3.85" fill="#111" stroke="#111" stroke-width="0.12"><tspan y="1.4">n = 4.8 × 10</tspan><tspan dy="-1.3" font-size="2.6">15</tspan><tspan dy="1.3"> cm</tspan><tspan dy="-1.3" font-size="2.6">−3</tspan></text>
<text x="223.2" y="216.8" class="s" font-size="5.3" fill="#1a1a1a" stroke="#1a1a1a" stroke-width="0.14"><tspan font-style="italic">V</tspan><tspan font-size="3.2" dy="1.5" fill="#555">DS</tspan><tspan dy="-1.5"> = 0.5 V</tspan></text>
<line x1="227.3" y1="218.6" x2="227.30" y2="223.50" stroke="#b0108c" stroke-width="0.9"/><polygon points="227.30,225.60 225.80,223.00 228.80,223.00" fill="#b0108c"/>
<text x="221.8" y="246.8" class="s" font-size="5.3" fill="#1a1a1a" stroke="#1a1a1a" stroke-width="0.14"><tspan font-style="italic">V</tspan><tspan font-size="3.2" dy="1.5" fill="#555">DS</tspan><tspan dy="-1.5"> = 0.1 V</tspan></text>
<line x1="226.8" y1="248.4" x2="226.80" y2="254.70" stroke="#ee1a1a" stroke-width="0.9"/><polygon points="226.80,256.80 225.30,254.20 228.30,254.20" fill="#ee1a1a"/>
<rect x="263.9" y="175" width="2.8" height="23.7" fill="#1fb4b4"/>
<polygon points="258,179 263.2,179 260.4,184.9" fill="#fff" stroke="#666" stroke-width="0.5"/><polygon points="261.8,179 263.2,179 260.6,184.6" fill="#444"/>
<polygon points="260.4,186.1 257.5,195.7 263.1,195.7" fill="#14a014"/>
<circle cx="260.4" cy="185.1" r="0.9" fill="#f08a20"/>
<line x1="270.8" y1="177.2" x2="268.70" y2="177.20" stroke="#2030e8" stroke-width="0.9"/><polygon points="267.60,177.20 269.20,176.20 269.20,178.20" fill="#2030e8"/><line x1="270.4" y1="184" x2="268.70" y2="184.00" stroke="#2030e8" stroke-width="0.9"/><polygon points="267.60,184.00 269.20,183.00 269.20,185.00" fill="#2030e8"/>
<circle cx="274.1" cy="176.6" r="0.8" fill="#2030e8"/><circle cx="271.6" cy="182.6" r="0.8" fill="#2030e8"/>
<line x1="274.1" y1="176" x2="274.1" y2="189" stroke="#f06080" stroke-width="0.5" stroke-dasharray="0.8,0.5"/><line x1="276.4" y1="177" x2="276.4" y2="188" stroke="#f06080" stroke-width="0.5"/><line x1="273.6" y1="178.6" x2="277.7" y2="178.6" stroke="#f06080" stroke-width="0.4"/>
<rect x="271.1" y="185.1" width="3" height="2.5" fill="#a8d0f0"/>
<text x="253.4" y="174.6" class="s" font-size="2.2" fill="#333">Graphene</text><text x="264" y="174.6" class="s" font-size="2.2" fill="#333">SiO₂</text><text x="272.6" y="174.6" class="s" font-size="2.2" fill="#333">Si:B</text>
<text x="278.4" y="178.3" class="s" font-size="2" fill="#555">E<tspan font-size="1.4">C</tspan></text><text x="278.4" y="184" class="s" font-size="2" fill="#555">E<tspan font-size="1.4">F</tspan></text><text x="278.4" y="188.6" class="s" font-size="2" fill="#555">E<tspan font-size="1.4">V</tspan></text>
<text x="253.8" y="183.8" class="s" font-size="2" fill="#555">E<tspan font-size="1.4">C</tspan></text><text x="253.8" y="187.3" class="s" font-size="2" fill="#555">E<tspan font-size="1.4">F</tspan></text>
<rect x="257.4" y="201.1" width="19.2" height="0.9" fill="#a8e070"/><rect x="256.8" y="202.4" width="20.4" height="0.5" fill="#e04040"/><rect x="256.8" y="202.9" width="20.4" height="0.5" fill="#9050d0"/><rect x="256.8" y="203.4" width="20.4" height="0.5" fill="#e0c040"/>
<rect x="253" y="204" width="28" height="2.3" fill="#1fb4b4"/><rect x="253" y="206.3" width="28" height="7.4" fill="#eeeeee"/><rect x="261.8" y="206.9" width="10.4" height="1" fill="#2030e0"/>
<text x="275.8" y="209.4" class="s" font-size="2.2" fill="#444">Si:B</text><text x="261" y="212.2" class="s" font-size="2.2" fill="#f4a070" textLength="15" lengthAdjust="spacingAndGlyphs">p+ Si:B  Si:B</text>
<rect x="211.4" y="169.4" width="135.9" height="104.79999999999998" fill="none" stroke="#444" stroke-width="1.2"/>
<text x="347" y="14.1" class="r" font-weight="bold" font-size="14">e</text>
<line x1="398.6" y1="120.5" x2="398.6" y2="118.3" stroke="#222" stroke-width="0.8"/><line x1="398.6" y1="20.9" x2="398.6" y2="23.099999999999998" stroke="#222" stroke-width="0.8"/>
<line x1="410.0" y1="120.5" x2="410.0" y2="119.1" stroke="#222" stroke-width="0.8"/><line x1="410.0" y1="20.9" x2="410.0" y2="22.299999999999997" stroke="#222" stroke-width="0.8"/>
<line x1="421.4" y1="120.5" x2="421.4" y2="118.3" stroke="#222" stroke-width="0.8"/><line x1="421.4" y1="20.9" x2="421.4" y2="23.099999999999998" stroke="#222" stroke-width="0.8"/>
<line x1="432.7" y1="120.5" x2="432.7" y2="119.1" stroke="#222" stroke-width="0.8"/><line x1="432.7" y1="20.9" x2="432.7" y2="22.299999999999997" stroke="#222" stroke-width="0.8"/>
<line x1="444.1" y1="120.5" x2="444.1" y2="118.3" stroke="#222" stroke-width="0.8"/><line x1="444.1" y1="20.9" x2="444.1" y2="23.099999999999998" stroke="#222" stroke-width="0.8"/>
<line x1="455.5" y1="120.5" x2="455.5" y2="119.1" stroke="#222" stroke-width="0.8"/><line x1="455.5" y1="20.9" x2="455.5" y2="22.299999999999997" stroke="#222" stroke-width="0.8"/>
<line x1="466.9" y1="120.5" x2="466.9" y2="118.3" stroke="#222" stroke-width="0.8"/><line x1="466.9" y1="20.9" x2="466.9" y2="23.099999999999998" stroke="#222" stroke-width="0.8"/>
<line x1="478.3" y1="120.5" x2="478.3" y2="119.1" stroke="#222" stroke-width="0.8"/><line x1="478.3" y1="20.9" x2="478.3" y2="22.299999999999997" stroke="#222" stroke-width="0.8"/>
<line x1="489.6" y1="120.5" x2="489.6" y2="118.3" stroke="#222" stroke-width="0.8"/><line x1="489.6" y1="20.9" x2="489.6" y2="23.099999999999998" stroke="#222" stroke-width="0.8"/>
<line x1="501.0" y1="120.5" x2="501.0" y2="119.1" stroke="#222" stroke-width="0.8"/><line x1="501.0" y1="20.9" x2="501.0" y2="22.299999999999997" stroke="#222" stroke-width="0.8"/>
<line x1="512.4" y1="120.5" x2="512.4" y2="118.3" stroke="#222" stroke-width="0.8"/><line x1="512.4" y1="20.9" x2="512.4" y2="23.099999999999998" stroke="#222" stroke-width="0.8"/>
<line x1="386.8" y1="120.5" x2="389.0" y2="120.5" stroke="#222" stroke-width="0.8"/>
<line x1="386.8" y1="103.9" x2="388.2" y2="103.9" stroke="#222" stroke-width="0.8"/>
<line x1="386.8" y1="87.3" x2="389.0" y2="87.3" stroke="#222" stroke-width="0.8"/>
<line x1="386.8" y1="70.7" x2="388.2" y2="70.7" stroke="#222" stroke-width="0.8"/>
<line x1="386.8" y1="54.1" x2="389.0" y2="54.1" stroke="#222" stroke-width="0.8"/>
<line x1="386.8" y1="37.5" x2="388.2" y2="37.5" stroke="#222" stroke-width="0.8"/>
<line x1="386.8" y1="20.9" x2="389.0" y2="20.9" stroke="#222" stroke-width="0.8"/>
<line x1="523.2" y1="119.6" x2="521.0" y2="119.6" stroke="#222" stroke-width="0.7"/>
<line x1="523.2" y1="110.1" x2="521.9000000000001" y2="110.1" stroke="#222" stroke-width="0.7"/>
<line x1="523.2" y1="104.6" x2="521.9000000000001" y2="104.6" stroke="#222" stroke-width="0.7"/>
<line x1="523.2" y1="100.7" x2="521.9000000000001" y2="100.7" stroke="#222" stroke-width="0.7"/>
<line x1="523.2" y1="97.7" x2="521.9000000000001" y2="97.7" stroke="#222" stroke-width="0.7"/>
<line x1="523.2" y1="95.2" x2="521.9000000000001" y2="95.2" stroke="#222" stroke-width="0.7"/>
<line x1="523.2" y1="93.1" x2="521.9000000000001" y2="93.1" stroke="#222" stroke-width="0.7"/>
<line x1="523.2" y1="91.2" x2="521.9000000000001" y2="91.2" stroke="#222" stroke-width="0.7"/>
<line x1="523.2" y1="89.6" x2="521.9000000000001" y2="89.6" stroke="#222" stroke-width="0.7"/>
<line x1="523.2" y1="88.2" x2="521.0" y2="88.2" stroke="#222" stroke-width="0.7"/>
<line x1="523.2" y1="78.7" x2="521.9000000000001" y2="78.7" stroke="#222" stroke-width="0.7"/>
<line x1="523.2" y1="73.2" x2="521.9000000000001" y2="73.2" stroke="#222" stroke-width="0.7"/>
<line x1="523.2" y1="69.3" x2="521.9000000000001" y2="69.3" stroke="#222" stroke-width="0.7"/>
<line x1="523.2" y1="66.3" x2="521.9000000000001" y2="66.3" stroke="#222" stroke-width="0.7"/>
<line x1="523.2" y1="63.8" x2="521.9000000000001" y2="63.8" stroke="#222" stroke-width="0.7"/>
<line x1="523.2" y1="61.7" x2="521.9000000000001" y2="61.7" stroke="#222" stroke-width="0.7"/>
<line x1="523.2" y1="59.8" x2="521.9000000000001" y2="59.8" stroke="#222" stroke-width="0.7"/>
<line x1="523.2" y1="58.2" x2="521.9000000000001" y2="58.2" stroke="#222" stroke-width="0.7"/>
<line x1="523.2" y1="56.8" x2="521.0" y2="56.8" stroke="#222" stroke-width="0.7"/>
<line x1="523.2" y1="47.3" x2="521.9000000000001" y2="47.3" stroke="#222" stroke-width="0.7"/>
<line x1="523.2" y1="41.8" x2="521.9000000000001" y2="41.8" stroke="#222" stroke-width="0.7"/>
<line x1="523.2" y1="37.9" x2="521.9000000000001" y2="37.9" stroke="#222" stroke-width="0.7"/>
<line x1="523.2" y1="34.9" x2="521.9000000000001" y2="34.9" stroke="#222" stroke-width="0.7"/>
<line x1="523.2" y1="32.4" x2="521.9000000000001" y2="32.4" stroke="#222" stroke-width="0.7"/>
<line x1="523.2" y1="30.3" x2="521.9000000000001" y2="30.3" stroke="#222" stroke-width="0.7"/>
<line x1="523.2" y1="28.4" x2="521.9000000000001" y2="28.4" stroke="#222" stroke-width="0.7"/>
<line x1="523.2" y1="26.8" x2="521.9000000000001" y2="26.8" stroke="#222" stroke-width="0.7"/>
<rect x="386.8" y="20.9" width="136.40000000000003" height="99.6" fill="none" stroke="#1a1a1a" stroke-width="1.4"/>
<text x="385.7" y="123.5" text-anchor="end" class="s" font-weight="bold" font-size="8.5" fill="#ff1a1a" stroke="#ff1a1a" stroke-width="0.2">0</text>
<text x="385.7" y="90.3" text-anchor="end" class="s" font-weight="bold" font-size="8.5" fill="#ff1a1a" stroke="#ff1a1a" stroke-width="0.2">1</text>
<text x="385.7" y="57.1" text-anchor="end" class="s" font-weight="bold" font-size="8.5" fill="#ff1a1a" stroke="#ff1a1a" stroke-width="0.2">2</text>
<text x="385.7" y="23.9" text-anchor="end" class="s" font-weight="bold" font-size="8.5" fill="#ff1a1a" stroke="#ff1a1a" stroke-width="0.2">3</text>
<text x="398.3" y="130.8" text-anchor="middle" class="s" font-weight="bold" font-size="7" textLength="12.4" lengthAdjust="spacingAndGlyphs" fill="#111" stroke="#111" stroke-width="0.2">–0.5</text>
<text x="421.1" y="130.8" text-anchor="middle" class="s" font-weight="bold" font-size="7" textLength="12.4" lengthAdjust="spacingAndGlyphs" fill="#111" stroke="#111" stroke-width="0.2">–0.4</text>
<text x="443.8" y="130.8" text-anchor="middle" class="s" font-weight="bold" font-size="7" textLength="12.4" lengthAdjust="spacingAndGlyphs" fill="#111" stroke="#111" stroke-width="0.2">–0.3</text>
<text x="466.6" y="130.8" text-anchor="middle" class="s" font-weight="bold" font-size="7" textLength="12.4" lengthAdjust="spacingAndGlyphs" fill="#111" stroke="#111" stroke-width="0.2">–0.2</text>
<text x="489.3" y="130.8" text-anchor="middle" class="s" font-weight="bold" font-size="7" textLength="12.4" lengthAdjust="spacingAndGlyphs" fill="#111" stroke="#111" stroke-width="0.2">–0.1</text>
<text x="512.4" y="130.8" text-anchor="middle" class="s" font-weight="bold" font-size="7"  fill="#111" stroke="#111" stroke-width="0.2">0</text>
<text x="525.0" y="123.0" class="s" font-size="8.6" fill="#2440b8" stroke="#2440b8" stroke-width="0.15">10<tspan dx="0.3" dy="-4.0" font-size="5.4">0</tspan></text>
<text x="525.0" y="91.6" class="s" font-size="8.6" fill="#2440b8" stroke="#2440b8" stroke-width="0.15">10<tspan dx="0.3" dy="-4.0" font-size="5.4">1</tspan></text>
<text x="525.0" y="60.2" class="s" font-size="8.6" fill="#2440b8" stroke="#2440b8" stroke-width="0.15">10<tspan dx="0.3" dy="-4.0" font-size="5.4">2</tspan></text>
<text x="525.0" y="28.8" class="s" font-size="8.6" fill="#2440b8" stroke="#2440b8" stroke-width="0.15">10<tspan dx="0.3" dy="-4.0" font-size="5.4">3</tspan></text>
<text x="456.6" y="140.6" text-anchor="middle" class="s" font-weight="bold" font-size="8.2" fill="#111" stroke="#111" stroke-width="0.3">Drain voltage (V)</text>
<text transform="translate(375.8,67.6) rotate(-90)" text-anchor="middle" class="s" font-weight="bold" font-size="8.3" fill="#ff1a1a" stroke="#ff1a1a" stroke-width="0.25">Responsivity (A/W)</text>
<text transform="translate(546.8,67.6) rotate(-90)" text-anchor="middle" class="s" font-weight="bold" font-size="8.7" fill="#2440b8" stroke="#2440b8" stroke-width="0.25">NETD (mK)</text>
<polygon points="409.6,90 445.5,91.4 445.6,94.2 409.8,92.6" fill="#eeeee6" stroke="#8a8a8a" stroke-width="0.35"/>
<polygon points="445.5,91.4 450.1,73.1 450.4,75.8 445.6,94.2" fill="#e4e4dc" stroke="#999" stroke-width="0.3"/>
<polygon points="417,72.2 450.1,73.1 445.5,91.4 409.6,90" fill="#d6a62a" stroke="#a88018" stroke-width="0.4"/>
<polygon points="419.6,75.4 444.4,76 441.5,89.7 415.8,88.5" fill="#a8b4c4"/>
<ellipse cx="429" cy="81.7" rx="1.8" ry="1" fill="#707880"/>
<line x1="429" y1="88.6" x2="438.10" y2="89.40" stroke="#111" stroke-width="0.45"/><polygon points="439.20,89.50 437.53,90.26 437.69,88.46" fill="#111"/><line x1="429" y1="88.6" x2="419.20" y2="87.97" stroke="#111" stroke-width="0.45"/><polygon points="418.10,87.90 419.75,87.10 419.64,88.90" fill="#111"/>
<line x1="427.8" y1="80.9" x2="434.00" y2="80.90" stroke="#111" stroke-width="0.4"/><polygon points="434.70,80.90 433.50,81.60 433.50,80.20" fill="#111"/>
<text x="429.5" y="79" class="s" font-size="3.4" fill="#111">L<tspan font-size="2.3" dy="0.6">G</tspan></text><text x="429.5" y="87.6" class="s" font-size="3.4" fill="#111">L<tspan font-size="2.3" dy="0.6">T</tspan></text>
<polyline points="411.8,80.6 407.3,80.6 407.3,95.4 413.6,95.4" fill="none" stroke="#333" stroke-width="0.45"/>
<text x="401" y="89.6" class="s" font-size="3.8" fill="#111">V<tspan font-size="2.4" dy="0.8">D</tspan></text><text x="408.2" y="78.8" class="s" font-size="3.8" fill="#111">I<tspan font-size="2.4" dy="0.8">D</tspan></text>
<line x1="425" y1="68.2" x2="425.00" y2="74.30" stroke="#111" stroke-width="0.45"/><polygon points="425.00,75.20 424.20,73.80 425.80,73.80" fill="#111"/>
<line x1="441" y1="70.8" x2="439.19" y2="73.55" stroke="#111" stroke-width="0.45"/><polygon points="438.70,74.30 438.80,72.69 440.14,73.57" fill="#111"/>
<line x1="415.6" y1="97.6" x2="418.78" y2="94.25" stroke="#111" stroke-width="0.45"/><polygon points="419.40,93.60 419.02,95.17 417.86,94.06" fill="#111"/>
<line x1="434" y1="98.4" x2="434.00" y2="95.10" stroke="#111" stroke-width="0.45"/><polygon points="434.00,94.20 434.80,95.60 433.20,95.60" fill="#111"/>
<line x1="450.4" y1="75.8" x2="452.6" y2="82" stroke="#888" stroke-width="0.35"/>
<text x="416.4" y="68" class="s" font-weight="bold" font-size="4" textLength="19.4" lengthAdjust="spacingAndGlyphs" fill="#222">Graphene</text>
<text x="439.2" y="70.6" class="s" font-weight="bold" font-size="3.8" textLength="10.9" lengthAdjust="spacingAndGlyphs" fill="#222">Cr/Au</text>
<text x="408.6" y="100.7" class="s" font-weight="bold" font-size="3.8" textLength="6" lengthAdjust="spacingAndGlyphs" fill="#222">InSb</text>
<text x="423" y="101.2" class="s" font-size="3.4" textLength="15" lengthAdjust="spacingAndGlyphs" fill="#333">1006-SiO<tspan font-size="2.4" dy="0.7">2</tspan></text>
<polyline points="398.4,25.4 420.8,31.8 443.2,41.8 466.4,58.9 477.8,64.7 489.6,90.4 500.3,98.2 509.2,84.2 511.6,70.6 511.6,68.4" fill="none" stroke="#2a50c0" stroke-width="1.4"/>
<polyline points="398.6,30.1 421.0,42.7 443.4,48.2 466.4,48.1 477.8,48.1 489.1,48.9 500.5,52.2 508.8,80.6 511.9,90.6" fill="none" stroke="#ff2020" stroke-width="1.4"/>
<circle cx="398.6" cy="30.1" r="2.8" fill="#ff1a1a"/>
<circle cx="421.0" cy="42.7" r="2.8" fill="#ff1a1a"/>
<circle cx="443.4" cy="48.2" r="2.8" fill="#ff1a1a"/>
<circle cx="466.4" cy="48.1" r="2.8" fill="#ff1a1a"/>
<circle cx="477.8" cy="48.1" r="2.8" fill="#ff1a1a"/>
<circle cx="489.1" cy="48.9" r="2.8" fill="#ff1a1a"/>
<circle cx="500.5" cy="52.2" r="2.8" fill="#ff1a1a"/>
<circle cx="508.8" cy="80.6" r="2.8" fill="#ff1a1a"/>
<circle cx="511.9" cy="90.6" r="2.8" fill="#ff1a1a"/>
<circle cx="398.4" cy="25.4" r="2.45" fill="#fff" stroke="#2a50c0" stroke-width="1.3"/>
<circle cx="420.8" cy="31.8" r="2.45" fill="#fff" stroke="#2a50c0" stroke-width="1.3"/>
<circle cx="443.2" cy="41.8" r="2.45" fill="#fff" stroke="#2a50c0" stroke-width="1.3"/>
<circle cx="466.4" cy="58.9" r="2.45" fill="#fff" stroke="#2a50c0" stroke-width="1.3"/>
<circle cx="477.8" cy="64.7" r="2.45" fill="#fff" stroke="#2a50c0" stroke-width="1.3"/>
<circle cx="489.6" cy="90.4" r="2.45" fill="#fff" stroke="#2a50c0" stroke-width="1.3"/>
<circle cx="500.3" cy="98.2" r="2.45" fill="#fff" stroke="#2a50c0" stroke-width="1.3"/>
<circle cx="509.2" cy="84.2" r="2.45" fill="#fff" stroke="#2a50c0" stroke-width="1.3"/>
<circle cx="511.6" cy="70.6" r="2.45" fill="#fff" stroke="#2a50c0" stroke-width="1.3"/>
<circle cx="511.6" cy="68.4" r="2.45" fill="#fff" stroke="#2a50c0" stroke-width="1.3"/>
<text x="350.8" y="155.1" class="r" font-weight="bold" font-size="14">f</text>
<rect x="386.8" y="169.9" width="137.99999999999994" height="102.9" fill="none" stroke="#1e1e1e" stroke-width="1.35"/>
<line x1="392.6" y1="272.8" x2="392.6" y2="270.6" stroke="#222" stroke-width="0.85"/>
<line x1="407.3" y1="272.8" x2="407.3" y2="271.40000000000003" stroke="#222" stroke-width="0.85"/>
<line x1="422.0" y1="272.8" x2="422.0" y2="270.6" stroke="#222" stroke-width="0.85"/>
<line x1="436.7" y1="272.8" x2="436.7" y2="271.40000000000003" stroke="#222" stroke-width="0.85"/>
<line x1="451.4" y1="272.8" x2="451.4" y2="270.6" stroke="#222" stroke-width="0.85"/>
<line x1="466.1" y1="272.8" x2="466.1" y2="271.40000000000003" stroke="#222" stroke-width="0.85"/>
<line x1="480.8" y1="272.8" x2="480.8" y2="270.6" stroke="#222" stroke-width="0.85"/>
<line x1="495.5" y1="272.8" x2="495.5" y2="271.40000000000003" stroke="#222" stroke-width="0.85"/>
<line x1="510.2" y1="272.8" x2="510.2" y2="270.6" stroke="#222" stroke-width="0.85"/>
<line x1="386.8" y1="272.7" x2="389.0" y2="272.7" stroke="#222" stroke-width="0.85"/>
<line x1="386.8" y1="265.9" x2="388.2" y2="265.9" stroke="#222" stroke-width="0.85"/>
<line x1="386.8" y1="259.1" x2="389.0" y2="259.1" stroke="#222" stroke-width="0.85"/>
<line x1="386.8" y1="252.2" x2="388.2" y2="252.2" stroke="#222" stroke-width="0.85"/>
<line x1="386.8" y1="245.4" x2="389.0" y2="245.4" stroke="#222" stroke-width="0.85"/>
<line x1="386.8" y1="238.6" x2="388.2" y2="238.6" stroke="#222" stroke-width="0.85"/>
<line x1="386.8" y1="231.8" x2="389.0" y2="231.8" stroke="#222" stroke-width="0.85"/>
<line x1="386.8" y1="225.0" x2="388.2" y2="225.0" stroke="#222" stroke-width="0.85"/>
<line x1="386.8" y1="218.1" x2="389.0" y2="218.1" stroke="#222" stroke-width="0.85"/>
<line x1="386.8" y1="211.3" x2="388.2" y2="211.3" stroke="#222" stroke-width="0.85"/>
<line x1="386.8" y1="204.5" x2="389.0" y2="204.5" stroke="#222" stroke-width="0.85"/>
<line x1="386.8" y1="197.7" x2="388.2" y2="197.7" stroke="#222" stroke-width="0.85"/>
<line x1="386.8" y1="190.9" x2="389.0" y2="190.9" stroke="#222" stroke-width="0.85"/>
<line x1="386.8" y1="184.0" x2="388.2" y2="184.0" stroke="#222" stroke-width="0.85"/>
<line x1="386.8" y1="177.2" x2="389.0" y2="177.2" stroke="#222" stroke-width="0.85"/>
<text x="383.7" y="275.0" text-anchor="end" class="s" font-size="6.8" fill="#1a1a1a" stroke="#1a1a1a" stroke-width="0.14">0.0</text>
<text x="383.7" y="261.4" text-anchor="end" class="s" font-size="6.8" fill="#1a1a1a" stroke="#1a1a1a" stroke-width="0.14">0.2</text>
<text x="383.7" y="247.7" text-anchor="end" class="s" font-size="6.8" fill="#1a1a1a" stroke="#1a1a1a" stroke-width="0.14">0.4</text>
<text x="383.7" y="234.1" text-anchor="end" class="s" font-size="6.8" fill="#1a1a1a" stroke="#1a1a1a" stroke-width="0.14">0.6</text>
<text x="383.7" y="220.4" text-anchor="end" class="s" font-size="6.8" fill="#1a1a1a" stroke="#1a1a1a" stroke-width="0.14">0.8</text>
<text x="383.7" y="206.8" text-anchor="end" class="s" font-size="6.8" fill="#1a1a1a" stroke="#1a1a1a" stroke-width="0.14">1.0</text>
<text x="383.7" y="193.2" text-anchor="end" class="s" font-size="6.8" fill="#1a1a1a" stroke="#1a1a1a" stroke-width="0.14">1.2</text>
<text x="383.7" y="179.5" text-anchor="end" class="s" font-size="6.8" fill="#1a1a1a" stroke="#1a1a1a" stroke-width="0.14">1.4</text>
<text x="392.6" y="281.6" text-anchor="middle" class="s" font-size="6.6" fill="#1a1a1a" stroke="#1a1a1a" stroke-width="0.14">0</text>
<text x="422.0" y="281.6" text-anchor="middle" class="s" font-size="6.6" fill="#1a1a1a" stroke="#1a1a1a" stroke-width="0.14">5</text>
<text x="451.4" y="281.6" text-anchor="middle" class="s" font-size="6.6" fill="#1a1a1a" stroke="#1a1a1a" stroke-width="0.14">10</text>
<text x="480.8" y="281.6" text-anchor="middle" class="s" font-size="6.6" fill="#1a1a1a" stroke="#1a1a1a" stroke-width="0.14">15</text>
<text x="510.2" y="281.6" text-anchor="middle" class="s" font-size="6.6" fill="#1a1a1a" stroke="#1a1a1a" stroke-width="0.14">20</text>
<text x="406" y="290.9" class="s" font-size="6.85" fill="#1a1a1a" stroke="#1a1a1a" stroke-width="0.14">Optical power density (mW cm<tspan dy="-2.6" font-size="4.6">−2</tspan><tspan dy="2.6">)</tspan></text>
<text transform="translate(368.8,221) rotate(-90)" text-anchor="middle" class="s" font-size="7.1" fill="#1a1a1a" stroke="#1a1a1a" stroke-width="0.14">Responsivity (A W<tspan dy="-2.6" font-size="4.7">−1</tspan><tspan dy="2.6">)</tspan></text>
<polygon points="437,217.6 447,219 451.5,223.8 444,221.5" fill="#f080e0" opacity="0.85"/><polygon points="435,217 442,216.5 449,221 440,219.5" fill="#e0c8f0" opacity="0.8"/>
<polygon points="448.8,214.2 470.3,214.2 459.9,226" fill="#b6b6b6"/>
<polygon points="459.9,226 449.3,236.6 470,236.6" fill="#7a7a7a"/>
<line x1="467.3" y1="234.4" x2="467.30" y2="219.60" stroke="#ee3030" stroke-width="0.5"/><polygon points="467.30,218.60 468.10,220.10 466.50,220.10" fill="#ee3030"/><rect x="465.6" y="216" width="3.2" height="2" fill="#222"/>
<polygon points="475.3,212.6 488.1,217.1 488.9,243.5 476,238.5" fill="#c4ead0" stroke="#7a8a7a" stroke-width="0.45"/>
<ellipse cx="482.1" cy="227.7" rx="4.3" ry="1.9" fill="#f0e020" stroke="#d0b010" stroke-width="0.3" transform="rotate(-14 482.1 227.7)"/>
<ellipse cx="482.1" cy="220.1" rx="1.5" ry="1" fill="#1a1a1a"/><ellipse cx="482.1" cy="233" rx="1.4" ry="1" fill="#f4f4f4" stroke="#333" stroke-width="0.35"/>
<line x1="471.5" y1="216.3" x2="484" y2="216.6" stroke="#5050e0" stroke-width="0.7" stroke-dasharray="1.2,0.6"/><line x1="479.8" y1="236.7" x2="492.7" y2="236.9" stroke="#e03030" stroke-width="0.7" stroke-dasharray="1.2,0.6"/>
<ellipse cx="492.7" cy="223.9" rx="1.5" ry="1" fill="#1a1a1a"/>
<ellipse cx="497.2" cy="224.6" rx="1.5" ry="1" fill="#1a1a1a"/>
<ellipse cx="502.5" cy="224.6" rx="1.5" ry="1" fill="#1a1a1a"/>
<ellipse cx="497.2" cy="228.4" rx="1.5" ry="1" fill="#1a1a1a"/>
<ellipse cx="492.7" cy="233.6" rx="1.3" ry="0.9" fill="#fff" stroke="#444" stroke-width="0.3"/>
<ellipse cx="497.2" cy="233.6" rx="1.3" ry="0.9" fill="#fff" stroke="#444" stroke-width="0.3"/>
<ellipse cx="502" cy="233.6" rx="1.3" ry="0.9" fill="#fff" stroke="#444" stroke-width="0.3"/>
<line x1="489.6" y1="226.1" x2="513.8" y2="226.1" stroke="#9a9a9a" stroke-width="0.5"/><line x1="489.6" y1="233" x2="513.8" y2="233" stroke="#9a9a9a" stroke-width="0.5"/><line x1="506.3" y1="224.6" x2="513.8" y2="224.6" stroke="#6060e0" stroke-width="0.5" stroke-dasharray="1,0.6"/><line x1="487" y1="224" x2="489" y2="224" stroke="#4040c0" stroke-width="0.5"/>
<line x1="490" y1="245.2" x2="461.70" y2="245.20" stroke="#222" stroke-width="0.55"/><polygon points="460.20,245.20 462.20,244.20 462.20,246.20" fill="#222"/>
<text x="457.6" y="211.4" class="s" font-size="2.2" fill="#444">n-Si</text><text x="478.3" y="211.4" class="s" font-size="2.2" textLength="6.8" lengthAdjust="spacingAndGlyphs" fill="#444">Interface</text><text x="494.9" y="211.4" class="s" font-size="2.2" textLength="10.6" lengthAdjust="spacingAndGlyphs" fill="#444">Pt ~ Au</text><text x="473" y="244" class="s" font-size="2" fill="#444">d</text>
<rect x="438" y="226.3" width="3" height="0.7" fill="#f08040"/><rect x="439" y="245" width="3" height="0.7" fill="#8080f0"/><circle cx="506.3" cy="245.5" r="0.9" fill="#e03030"/>
<polyline points="395.3,254.8 398.7,253.7 410.1,254.8 416,253.7 427.5,256.3 442.3,256.3 463.7,256.3 484,255.5 513.6,255.5" fill="none" stroke="#ff1a1a" stroke-width="1.4"/>
<circle cx="395.3" cy="254.8" r="2.55" fill="url(#gr)"/>
<circle cx="398.7" cy="253.7" r="2.55" fill="url(#gr)"/>
<circle cx="410.1" cy="254.8" r="2.55" fill="url(#gr)"/>
<circle cx="416" cy="253.7" r="2.55" fill="url(#gr)"/>
<circle cx="427.5" cy="256.3" r="2.55" fill="url(#gr)"/>
<circle cx="442.3" cy="256.3" r="2.55" fill="url(#gr)"/>
<circle cx="463.7" cy="256.3" r="2.55" fill="url(#gr)"/>
<circle cx="484" cy="255.5" r="2.55" fill="url(#gr)"/>
<circle cx="513.6" cy="255.5" r="2.55" fill="url(#gr)"/>
<polyline points="395.3,243.7 398.7,240 410.1,223 416,207.5 427.5,202.3 442.3,202 463.7,202 484,201.2 513.6,202" fill="none" stroke="#1cbc1c" stroke-width="1.4"/>
<circle cx="395.3" cy="243.7" r="2.55" fill="url(#gg)"/>
<circle cx="398.7" cy="240" r="2.55" fill="url(#gg)"/>
<circle cx="410.1" cy="223" r="2.55" fill="url(#gg)"/>
<circle cx="416" cy="207.5" r="2.55" fill="url(#gg)"/>
<circle cx="427.5" cy="202.3" r="2.55" fill="url(#gg)"/>
<circle cx="442.3" cy="202" r="2.55" fill="url(#gg)"/>
<circle cx="463.7" cy="202" r="2.55" fill="url(#gg)"/>
<circle cx="484" cy="201.2" r="2.55" fill="url(#gg)"/>
<circle cx="513.6" cy="202" r="2.55" fill="url(#gg)"/>
<line x1="397.9" y1="179.1" x2="411.3" y2="179.1" stroke="#1cbc1c" stroke-width="1.4"/><circle cx="404.7" cy="179.1" r="2.5" fill="url(#gg)"/>
<line x1="397.9" y1="188.5" x2="411.3" y2="188.5" stroke="#ff1a1a" stroke-width="1.4"/><circle cx="404.7" cy="188.5" r="2.5" fill="url(#gr)"/>
<text x="414.5" y="181.2" class="s" font-size="5.9" fill="#222" stroke="#222" stroke-width="0.14">With AlN (15.3 nm)</text>
<text x="414.5" y="190.6" class="s" font-size="5.9" fill="#222" stroke="#222" stroke-width="0.14">Control</text>
</svg>
</body></html>
